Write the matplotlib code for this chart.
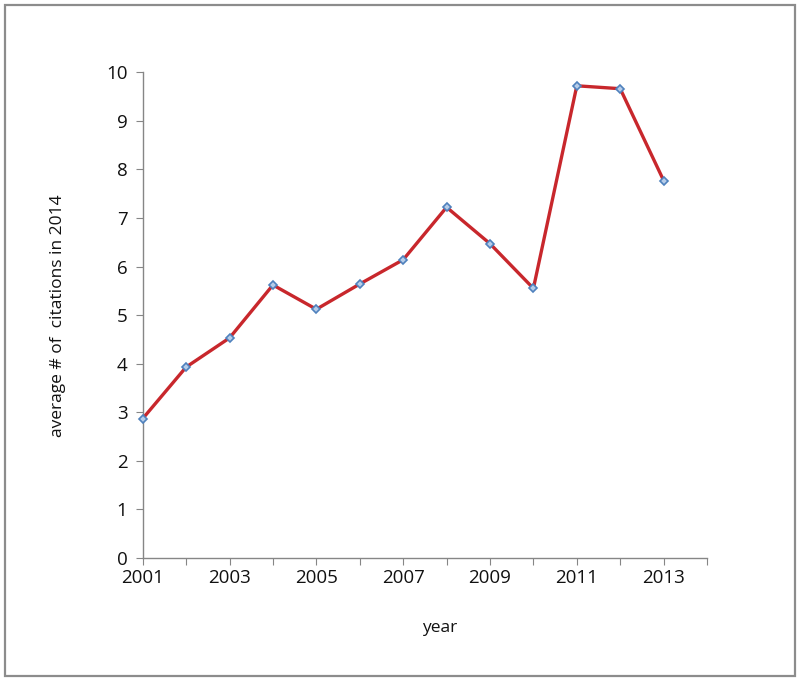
import matplotlib.pyplot as plt
from matplotlib.patches import Rectangle

years = [2001, 2002, 2003, 2004, 2005, 2006, 2007, 2008, 2009, 2010, 2011, 2012, 2013]
avg_citations = [2.87, 3.93, 4.53, 5.62, 5.12, 5.64, 6.14, 7.22, 6.47, 5.55, 9.72, 9.66, 7.77]
x_labels = [2001, 2003, 2005, 2007, 2009, 2011, 2013]

plt.rcParams['font.family'] = ['Open Sans', 'DejaVu Sans']

fig = plt.figure(figsize=(8, 6.81), dpi=100)
ax = fig.add_axes([0.1784, 0.1806, 0.8838 - 0.1784, 0.894 - 0.1806])

# outer frame like the Excel chart area
fig.patches.append(Rectangle((0.006, 0.007), 0.988, 0.986, transform=fig.transFigure,
                             fill=False, edgecolor='#8c8c8c', linewidth=1.6))

ax.plot(years, avg_citations, color='#c8272c', linewidth=2.4, zorder=2, clip_on=False)
ax.plot(years, avg_citations, linestyle='none', marker='D', markersize=4.5,
        markerfacecolor='#b7cde9', markeredgecolor='#4f81bd', markeredgewidth=1.2,
        zorder=3, clip_on=False)

ax.set_xlim(2001, 2014)
ax.set_ylim(0, 10)
ax.set_xticks(range(2001, 2015))
ax.set_xticklabels([str(y) if y in x_labels else '' for y in range(2001, 2015)])
ax.set_yticks(range(0, 11))

for s in ['top', 'right']:
    ax.spines[s].set_visible(False)
for s in ['left', 'bottom']:
    ax.spines[s].set_color('#868686')
    ax.spines[s].set_linewidth(1.0)

ax.tick_params(axis='both', direction='out', length=5, color='#868686', labelsize=13.5,
               labelcolor='#111111')
ax.tick_params(axis='x', pad=3)
ax.tick_params(axis='y', pad=6)

fig.text(0.0725, 0.537, 'average # of  citations in 2014', rotation=90, ha='center', va='center',
         fontsize=12.5, color='#111111')
fig.text(0.55, 0.078, 'year', ha='center', va='center', fontsize=12.5, color='#111111')

fig.savefig('out.png', dpi=100)
